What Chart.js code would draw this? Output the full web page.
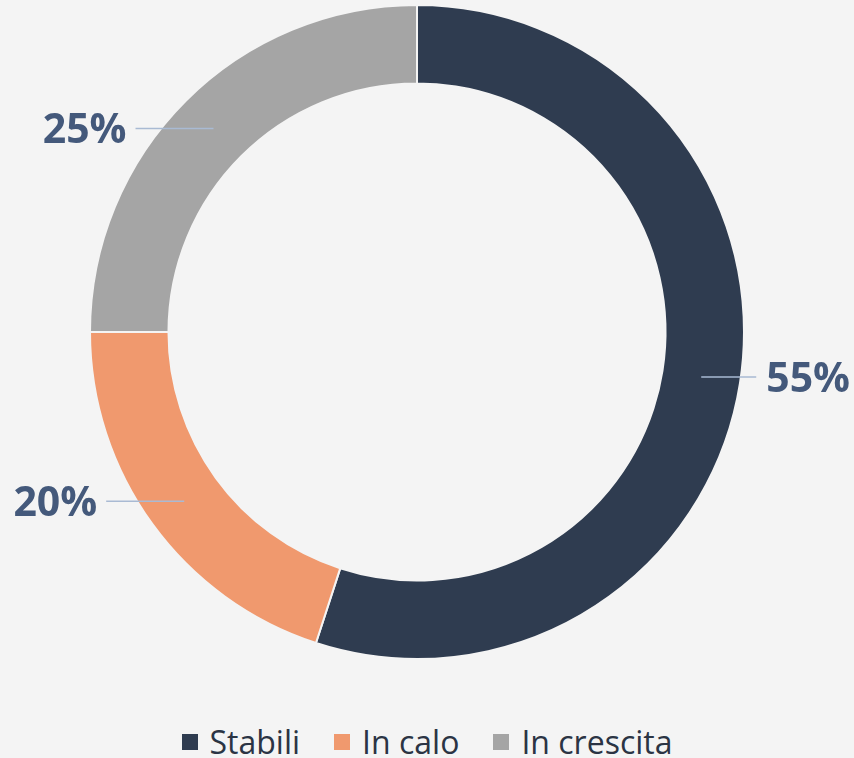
<!DOCTYPE html>
<html>
<head>
<meta charset="utf-8">
<script src="https://cdn.jsdelivr.net/npm/chart.js@4.4.0/dist/chart.umd.min.js"></script>
<style>
    html, body { margin: 0; padding: 0; background: #f4f4f4; }
    body { width: 854px; height: 758px; position: relative; overflow: hidden; font-family: 'Open Sans', sans-serif; }
    #wrap { position: absolute; left: 0; top: 0; width: 854px; height: 700px; }
    #legend { position: absolute; left: 0; top: 722px; width: 854px; display: flex; justify-content: center; align-items: center; font-size: 32px; line-height: 40px; color: #2b3444; }
    .item { display: flex; align-items: center; margin: 0 17px; }
    .box { width: 16px; height: 16px; margin-right: 12px; }
</style>
</head>
<body>
<div id="wrap"><canvas id="ciambella"></canvas></div>
<div id="legend"></div>
<script>
// Dati
const categorie = ['Stabili', 'In calo', 'In crescita'];
const percentuali = [55, 20, 25];
const colori = ['#2f3c50', '#f0996e', '#a5a5a5'];

// Etichette esterne con linea di richiamo
const etichetteEsterne = {
    id: 'etichetteEsterne',
    afterDatasetsDraw(chart) {
        const ctx = chart.ctx;
        const meta = chart.getDatasetMeta(0);
        ctx.save();
        meta.data.forEach((arc, i) => {
            const p = arc.getProps(['x', 'y', 'startAngle', 'endAngle', 'innerRadius', 'outerRadius'], true);
            const a = (p.startAngle + p.endAngle) / 2;
            const rMid = (p.innerRadius + p.outerRadius) / 2;
            const sx = p.x + Math.cos(a) * rMid;
            const sy = p.y + Math.sin(a) * rMid;
            const destra = Math.cos(a) > 0;
            const ex = destra ? sx + 55 : sx - 78;

            ctx.strokeStyle = '#a9bad3';
            ctx.lineWidth = 1.5;
            ctx.beginPath();
            ctx.moveTo(sx, sy);
            ctx.lineTo(ex, sy);
            ctx.stroke();

            ctx.fillStyle = '#44597b';
            ctx.font = 'bold 41px "Open Sans"';
            ctx.textBaseline = 'alphabetic';
            ctx.textAlign = destra ? 'left' : 'right';
            ctx.fillText(percentuali[i] + '%', destra ? ex + 10 : ex - 9, sy + 14.5);
        });
        ctx.restore();
    }
};

new Chart(document.getElementById('ciambella'), {
    type: 'doughnut',
    data: {
        labels: categorie,
        datasets: [{
            data: percentuali,
            backgroundColor: colori,
            borderColor: '#f4f4f4',
            borderWidth: 2
        }]
    },
    options: {
        responsive: true,
        maintainAspectRatio: false,
        animation: false,
        cutout: '76%',
        layout: { padding: { top: 4, bottom: 40, left: 0, right: 20 } },
        plugins: {
            legend: { display: false },
            tooltip: { enabled: false }
        }
    },
    plugins: [etichetteEsterne]
});

// Legenda in basso
const legenda = document.getElementById('legend');
categorie.forEach((nome, i) => {
    const item = document.createElement('div');
    item.className = 'item';
    const box = document.createElement('span');
    box.className = 'box';
    box.style.background = colori[i];
    const testo = document.createElement('span');
    testo.textContent = nome;
    item.appendChild(box);
    item.appendChild(testo);
    legenda.appendChild(item);
});
</script>
</body>
</html>
